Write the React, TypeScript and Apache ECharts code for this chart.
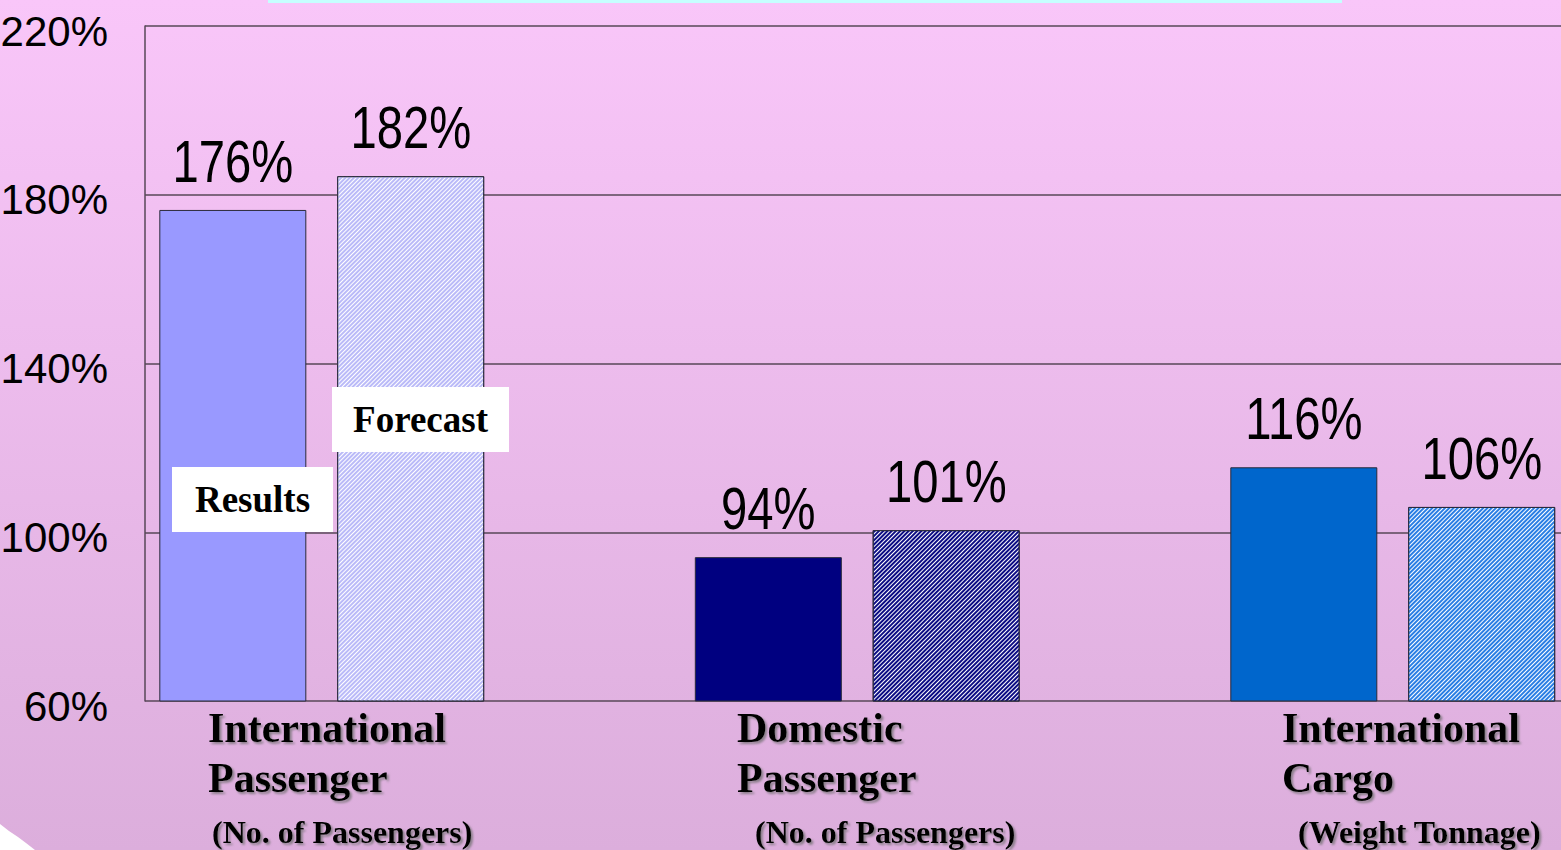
import React, { useEffect, useRef } from 'react';
import * as echarts from 'echarts';

// ---- data ----
const categories = ['International Passenger', 'Domestic Passenger', 'International Cargo'];
const categoryTitleLines = [
  ['International', 'Passenger'],
  ['Domestic', 'Passenger'],
  ['International', 'Cargo'],
];
const categoryNotes = ['(No. of Passengers)', '(No. of Passengers)', '(Weight Tonnage)'];
const seriesNames = ['Results', 'Forecast'];
const resultsValues = [176.4, 94.1, 115.4];
const forecastValues = [184.4, 100.5, 106.0];
const resultsLabels = ['176%', '94%', '116%'];
const forecastLabels = ['182%', '101%', '106%'];
const yMin = 60;
const yMax = 220;
const yStep = 40;

// ---- styles ----
const resultsColors = ['#9999ff', '#000080', '#0066cc'];
const forecastBack = ['#ffffff', '#ffffff', '#ffffff'];
const forecastStripe = ['#babaf8', '#0c0c84', '#2a7ee4'];
const sans = "'Liberation Sans', Arial, sans-serif";
const serif = "'Liberation Serif', 'Times New Roman', serif";
const lineColor = '#574757';

const titleX = [208, 737, 1282];
const noteX = [212, 755, 1298];
const BAR_W = 147;
const BAR_SHIFT = 89; // half of (bar width + gap)

export default function App() {
  const ref = useRef<HTMLDivElement>(null);

  useEffect(() => {
    document.body.style.margin = '0';
    document.body.style.overflow = 'hidden';
    if (!ref.current) return;
    const chart = echarts.init(ref.current, undefined, { renderer: 'svg' });

    const shadow = {
      textShadowColor: 'rgba(110,110,110,0.75)',
      textShadowBlur: 2,
      textShadowOffsetX: 2,
      textShadowOffsetY: 2,
    };

    const catTexts: any[] = [];
    categoryTitleLines.forEach((lines, i) => {
      lines.forEach((t, j) => {
        catTexts.push({
          type: 'text',
          z: 20,
          style: {
            text: t,
            x: titleX[i],
            y: 728 + j * 50,
            fill: '#000',
            fontFamily: serif,
            fontWeight: 'bold',
            fontSize: 42,
            textAlign: 'left',
            textVerticalAlign: 'middle',
            ...shadow,
          },
        });
      });
      catTexts.push({
        type: 'text',
        z: 20,
        style: {
          text: categoryNotes[i],
          x: noteX[i],
          y: 832,
          fill: '#000',
          fontFamily: serif,
          fontWeight: 'bold',
          fontSize: 32,
          textAlign: 'left',
          textVerticalAlign: 'middle',
          ...shadow,
        },
      });
    });

    const legendBox = (name: string, x: number, y: number, w: number, h: number) => ({
      type: 'group',
      z: 30,
      children: [
        { type: 'rect', z: 30, shape: { x, y, width: w, height: h }, style: { fill: '#ffffff' } },
        {
          type: 'text',
          z: 31,
          style: {
            text: name,
            x: x + w / 2,
            y: y + h / 2,
            fill: '#000',
            fontFamily: serif,
            fontWeight: 'bold',
            fontSize: 37,
            textAlign: 'center',
            textVerticalAlign: 'middle',
          },
        },
      ],
    });

    const labelSeries = (values: number[], labels: string[], shift: number) => ({
      type: 'custom',
      xAxisIndex: 1,
      yAxisIndex: 1,
      z: 10,
      clip: false,
      silent: true,
      encode: { x: 0, y: 1 },
      data: values.map((v, i) => [i, v]),
      renderItem: (params: any, api: any) => {
        const p = api.coord([api.value(0), api.value(1)]);
        return {
          type: 'text',
          x: p[0] + shift,
          y: p[1] - 19,
          scaleX: 0.8,
          style: {
            text: labels[params.dataIndex],
            fill: '#000',
            fontFamily: sans,
            fontSize: 59,
            textAlign: 'center',
            textVerticalAlign: 'bottom',
          },
        };
      },
    });

    const option: any = {
      animation: false,
      backgroundColor: 'transparent',
      graphic: [
        {
          type: 'rect',
          z: -100,
          shape: { x: 0, y: 0, width: 1561, height: 850 },
          style: {
            fill: new echarts.graphic.LinearGradient(0, 0, 0, 1, [
              { offset: 0, color: '#f9c6f9' },
              { offset: 1, color: '#dcaedc' },
            ]),
          },
        },
        { type: 'rect', z: -90, shape: { x: 268, y: 0, width: 1074, height: 3 }, style: { fill: '#c6ffff' } },
        {
          type: 'polygon',
          z: -90,
          shape: { points: [[0, 824], [9, 831], [18, 837], [26, 843], [35, 850], [0, 850]] },
          style: { fill: '#ffffff' },
        },
        legendBox(seriesNames[0], 172, 467, 161, 65),
        legendBox(seriesNames[1], 332, 387, 177, 65),
        ...catTexts,
      ],
      grid: [
        { left: 145, right: 0, top: 26, bottom: 149, containLabel: false, outerBoundsMode: 'none' },
        { left: 54, width: 1606.5, top: 26, bottom: 149, containLabel: false, outerBoundsMode: 'none' },
      ],
      xAxis: [
        { type: 'value', gridIndex: 0, show: false, min: 0, max: 1 },
        {
          type: 'category',
          gridIndex: 1,
          data: categories,
          axisLine: { show: false },
          axisTick: { show: false },
          axisLabel: { show: false },
          splitLine: { show: false },
        },
      ],
      yAxis: [
        {
          type: 'value',
          gridIndex: 0,
          min: yMin,
          max: yMax,
          interval: yStep,
          axisLine: { show: true, lineStyle: { color: lineColor, width: 1.5 } },
          axisTick: { show: false },
          splitLine: { show: true, lineStyle: { color: lineColor, width: 1.5 } },
          axisLabel: {
            formatter: '{value}%',
            color: '#000',
            fontFamily: sans,
            fontSize: 42,
            margin: 37,
            verticalAlign: 'top',
            lineHeight: 10,
          },
        },
        {
          type: 'value',
          gridIndex: 1,
          min: yMin,
          max: yMax,
          show: false,
          splitLine: { show: false },
        },
      ],
      series: [
        {
          name: seriesNames[0],
          type: 'bar',
          xAxisIndex: 1,
          yAxisIndex: 1,
          barWidth: BAR_W,
          barGap: '21%',
          data: resultsValues.map((v, i) => ({
            value: v,
            itemStyle: { color: resultsColors[i], borderColor: '#2a2a3a', borderWidth: 1 },
          })),
        },
        {
          name: seriesNames[1],
          type: 'bar',
          xAxisIndex: 1,
          yAxisIndex: 1,
          barWidth: BAR_W,
          barGap: '21%',
          data: forecastValues.map((v, i) => ({
            value: v,
            itemStyle: {
              color: forecastBack[i],
              borderColor: '#2a2a3a',
              borderWidth: 1,
              decal: {
                symbol: 'rect',
                symbolSize: 1,
                dashArrayX: [1, 0],
                dashArrayY: [1.2, 1],
                rotation: -Math.PI / 4,
                color: forecastStripe[i],
              },
            },
          })),
        },
        labelSeries(resultsValues, resultsLabels, -BAR_SHIFT),
        labelSeries(forecastValues, forecastLabels, BAR_SHIFT),
      ],
    };

    chart.setOption(option);
    return () => chart.dispose();
  }, []);

  return <div ref={ref} style={{ width: 1561, height: 850 }} />;
}
